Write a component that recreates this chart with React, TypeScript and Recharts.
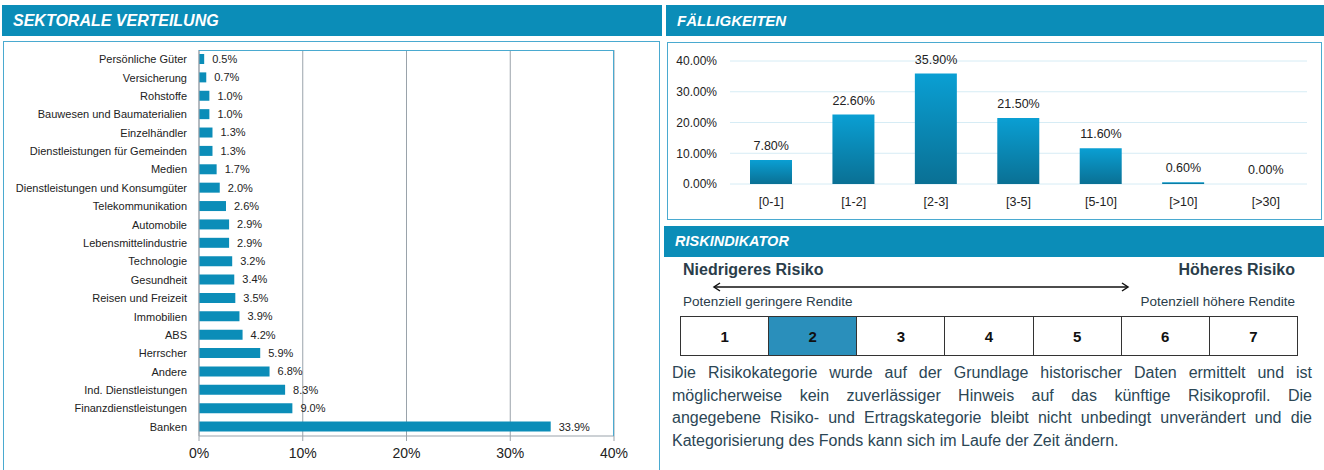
import React from 'react';
import {
  BarChart,
  ComposedChart,
  Bar,
  Line,
  XAxis,
  YAxis,
  CartesianGrid,
  LabelList,
} from 'recharts';

const sectors = [
  'Persönliche Güter',
  'Versicherung',
  'Rohstoffe',
  'Bauwesen und Baumaterialien',
  'Einzelhändler',
  'Dienstleistungen für Gemeinden',
  'Medien',
  'Dienstleistungen und Konsumgüter',
  'Telekommunikation',
  'Automobile',
  'Lebensmittelindustrie',
  'Technologie',
  'Gesundheit',
  'Reisen und Freizeit',
  'Immobilien',
  'ABS',
  'Herrscher',
  'Andere',
  'Ind. Dienstleistungen',
  'Finanzdienstleistungen',
  'Banken',
];
const sectorValues = [
  0.5, 0.7, 1.0, 1.0, 1.3, 1.3, 1.7, 2.0, 2.6, 2.9, 2.9, 3.2, 3.4, 3.5, 3.9,
  4.2, 5.9, 6.8, 8.3, 9.0, 33.9,
];
const sectorTicks = [0, 10, 20, 30, 40];

const maturities = ['[0-1]', '[1-2]', '[2-3]', '[3-5]', '[5-10]', '[>10]', '[>30]'];
const maturityValues = [7.8, 22.6, 35.9, 21.5, 11.6, 0.6, 0.0];
const maturityTicks = [0, 10, 20, 30, 40];

const riskLevels = [1, 2, 3, 4, 5, 6, 7];
const currentRisk = 2;

const riskText = [
  'Die Risikokategorie wurde auf der Grundlage historischer Daten ermittelt und ist',
  'möglicherweise kein zuverlässiger Hinweis auf das künftige Risikoprofil. Die',
  'angegebene Risiko- und Ertragskategorie bleibt nicht unbedingt unverändert und die',
  'Kategorisierung des Fonds kann sich im Laufe der Zeit ändern.',
];

const HEADER = '#0b8db8';
const BORDER = '#4aaad0';
const TEXT = '#222';
const DARK = '#2b4655';

const sectorData = sectors.map((name, i) => ({ name, value: sectorValues[i] }));
const maturityData = maturities.map((name, i) => ({ name, value: maturityValues[i] }));

function Header({ left, top, width, title, size }: { left: number; top: number; width: number; title: string; size: number }) {
  return (
    <div
      style={{
        position: 'absolute',
        left,
        top,
        width,
        height: 31,
        background: HEADER,
        color: '#fff',
        fontWeight: 'bold',
        fontStyle: 'italic',
        fontSize: size,
        lineHeight: '31px',
        paddingLeft: 11,
        boxSizing: 'border-box',
      }}
    >
      {title}
    </div>
  );
}

// category labels on one line, no wrapping
function SectorTick(props: any) {
  const { x, y, payload } = props;
  return (
    <text x={x} y={y} dy={4} textAnchor="end" fontSize={11} fill={TEXT}>
      {payload.value}
    </text>
  );
}

export default function App() {
  return (
    <div
      style={{
        position: 'absolute',
        left: 0,
        top: 0,
        width: 1324,
        height: 470,
        overflow: 'hidden',
        background: '#fff',
        fontFamily: '"Liberation Sans", Arial, sans-serif',
      }}
    >
      {/* left panel */}
      <Header left={2} top={5} width={660} title="SEKTORALE VERTEILUNG" size={16} />
      <div
        style={{
          position: 'absolute',
          left: 3,
          top: 41,
          width: 657,
          height: 440,
          border: `1px solid ${BORDER}`,
          boxSizing: 'border-box',
        }}
      />
      <div style={{ position: 'absolute', left: 0, top: 0 }}>
        <BarChart
          width={662}
          height={470}
          layout="vertical"
          data={sectorData}
          margin={{ top: 50, right: 48, left: 4, bottom: 10 }}
        >
          <CartesianGrid horizontal={false} stroke="#9aa3ab" />
          <XAxis
            type="number"
            domain={[0, 40]}
            ticks={sectorTicks}
            tickFormatter={(v: number) => `${v}%`}
            tick={{ fontSize: 14, fill: TEXT }}
            axisLine={{ stroke: '#9aa3ab' }}
            tickLine={{ stroke: '#9aa3ab' }}
            tickSize={5}
            tickMargin={7}
            height={24}
          />
          <YAxis
            type="category"
            dataKey="name"
            width={195}
            interval={0}
            tick={<SectorTick />}
            axisLine={{ stroke: '#9aa3ab' }}
            tickLine={false}
            tickMargin={6}
          />
          <Bar dataKey="value" fill={HEADER} barSize={10} isAnimationActive={false}>
            <LabelList
              dataKey="value"
              position="right"
              offset={8}
              formatter={(v: number) => `${v.toFixed(1)}%`}
              style={{ fontSize: 11, fill: TEXT }}
            />
          </Bar>
        </BarChart>
      </div>
      <div
        style={{
          position: 'absolute',
          left: 199,
          top: 50,
          width: 415,
          height: 386,
          borderTop: `1px solid ${BORDER}`,
          borderRight: `1px solid ${BORDER}`,
          boxSizing: 'border-box',
        }}
      />

      {/* right top panel */}
      <Header left={666} top={5} width={658} title="FÄLLIGKEITEN" size={15} />
      <div
        style={{
          position: 'absolute',
          left: 667,
          top: 42,
          width: 655,
          height: 178,
          border: `1px solid ${BORDER}`,
          boxSizing: 'border-box',
        }}
      />
      <div style={{ position: 'absolute', left: 667, top: 42 }}>
        <ComposedChart
          width={654}
          height={176}
          data={maturityData}
          margin={{ top: 19, right: 14, left: 0, bottom: 10 }}
        >
          <defs>
            <linearGradient id="matGrad" x1="0" y1="0" x2="0" y2="1">
              <stop offset="0%" stopColor="#0a9fd3" />
              <stop offset="100%" stopColor="#0a7094" />
            </linearGradient>
          </defs>
          <CartesianGrid vertical={false} stroke="#d6ecf5" />
          <XAxis
            dataKey="name"
            axisLine={false}
            tickLine={false}
            tick={{ fontSize: 12.5, fill: TEXT }}
            tickMargin={7}
            height={24}
          />
          <YAxis
            domain={[0, 40]}
            ticks={maturityTicks}
            tickFormatter={(v: number) => `${v.toFixed(2)}%`}
            tick={{ fontSize: 12, fill: TEXT }}
            axisLine={false}
            tickLine={false}
            width={63}
            tickMargin={7}
          />
          <Bar dataKey="value" fill="url(#matGrad)" barSize={42} isAnimationActive={false} />
          {/* invisible line only carries the value labels (also the 0.00% one) */}
          <Line
            dataKey="value"
            stroke="none"
            dot={false}
            activeDot={false}
            isAnimationActive={false}
          >
            <LabelList
              dataKey="value"
              position="top"
              offset={10}
              formatter={(v: number) => `${v.toFixed(2)}%`}
              style={{ fontSize: 12.5, fill: TEXT }}
            />
          </Line>
        </ComposedChart>
      </div>

      {/* risk indicator */}
      <Header left={664} top={226} width={660} title="RISKINDIKATOR" size={14.5} />
      <div
        style={{
          position: 'absolute',
          left: 683,
          top: 261,
          width: 612,
          fontSize: 16,
          fontWeight: 'bold',
          color: '#2a3d4a',
          display: 'flex',
          justifyContent: 'space-between',
        }}
      >
        <span>Niedrigeres Risiko</span>
        <span>Höheres Risiko</span>
      </div>
      <svg style={{ position: 'absolute', left: 0, top: 0 }} width={1324} height={470}>
        <line x1={714} y1={287} x2={1128} y2={287} stroke="#111" strokeWidth={1.5} />
        <polyline points="720,283 714,287 720,291" fill="none" stroke="#111" strokeWidth={1.5} />
        <polyline points="1122,283 1128,287 1122,291" fill="none" stroke="#111" strokeWidth={1.5} />
      </svg>
      <div
        style={{
          position: 'absolute',
          left: 683,
          top: 294,
          width: 612,
          fontSize: 13.5,
          color: '#2a3d4a',
          display: 'flex',
          justifyContent: 'space-between',
        }}
      >
        <span>Potenziell geringere Rendite</span>
        <span>Potenziell höhere Rendite</span>
      </div>
      <div
        style={{
          position: 'absolute',
          left: 680,
          top: 316,
          width: 618,
          height: 40,
          display: 'flex',
          border: '1px solid #333',
          boxSizing: 'border-box',
        }}
      >
        {riskLevels.map((lvl, i) => (
          <div
            key={lvl}
            style={{
              flex: 1,
              borderLeft: i === 0 ? 'none' : '1px solid #333',
              background: lvl === currentRisk ? '#2a8fbb' : '#fff',
              fontWeight: 'bold',
              fontSize: 15,
              color: '#111',
              display: 'flex',
              alignItems: 'center',
              justifyContent: 'center',
            }}
          >
            {lvl}
          </div>
        ))}
      </div>
      <div
        style={{
          position: 'absolute',
          left: 672,
          top: 362,
          width: 640,
          fontSize: 16,
          lineHeight: '22.5px',
          color: DARK,
        }}
      >
        {riskText.map((line, i) => (
          <div
            key={i}
            style={{
              whiteSpace: 'nowrap',
              textAlign: 'justify',
              textAlignLast: i < riskText.length - 1 ? 'justify' : 'left',
            }}
          >
            {line}
          </div>
        ))}
      </div>
    </div>
  );
}
